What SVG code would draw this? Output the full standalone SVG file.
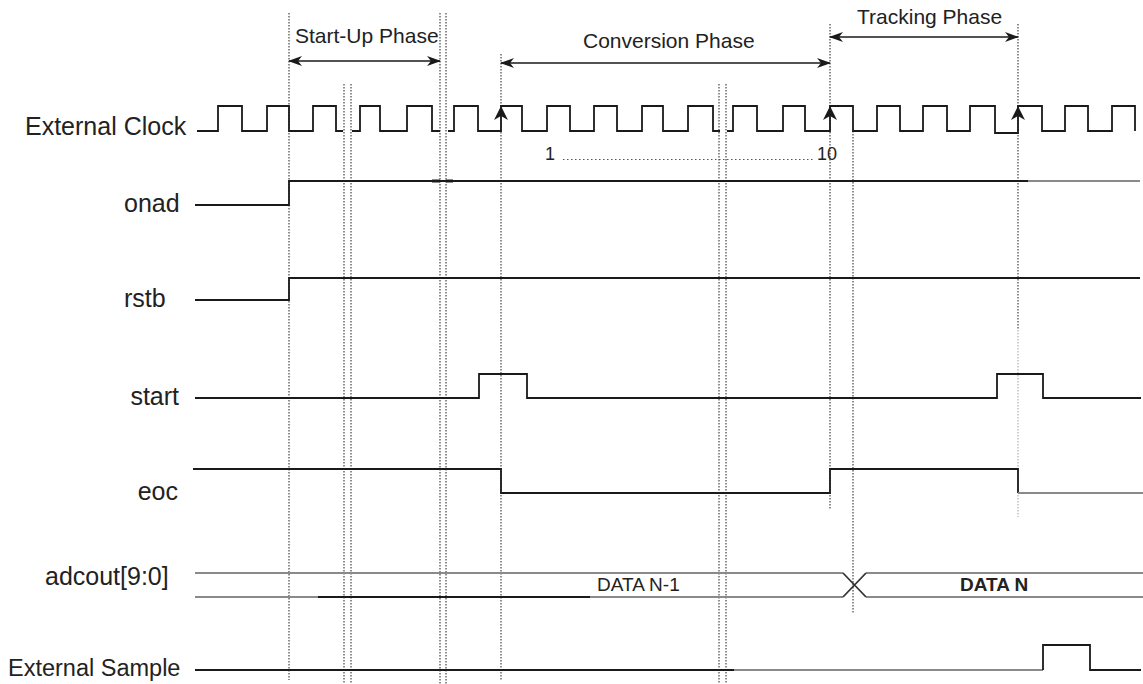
<svg xmlns="http://www.w3.org/2000/svg" width="1143" height="684" viewBox="0 0 1143 684">
<style>
  .lbl{font-family:"Liberation Sans",Arial,sans-serif;fill:#222}
  .sig{fill:none;stroke:#1a1a1a;stroke-width:1.8}
  .gry{fill:none;stroke:#8a8a8a;stroke-width:1.8}
  .vd{fill:none;stroke:#333;stroke-width:1.1;stroke-dasharray:1.6 1.4}
  .vdl{fill:none;stroke:#aaa;stroke-width:1.1;stroke-dasharray:1.6 1.4}
  .ar{fill:none;stroke:#1a1a1a;stroke-width:1.6}
</style>
<defs>
  <marker id="ah" viewBox="0 0 14 10" refX="13" refY="5" markerWidth="14" markerHeight="10" markerUnits="userSpaceOnUse" orient="auto-start-reverse">
    <path d="M0,0 L14,5 L0,10 L4,5 z" fill="#1a1a1a"/>
  </marker>
</defs>
<rect width="1143" height="684" fill="#fff"/>

<g id="connectors">
  <path class="vd" d="M289,13 V680"/>
  <path class="vd" d="M344,84 V684 M351,84 V684"/>
  <path class="vd" d="M440,13 V684 M446,13 V684"/>
  <path class="vd" d="M501,54 V680"/>
  <path class="vd" d="M719,84 V684 M726,84 V684"/>
  <path class="vd" d="M830,24 V510"/>
  <path class="vd" d="M853,131 V614"/>
  <path class="vd" d="M1018,24 V330"/>
  <path class="vdl" d="M1018,330 V517"/>
  <path class="ar" d="M289,61 H440" marker-start="url(#ah)" marker-end="url(#ah)"/>
  <path class="ar" d="M501,63 H830" marker-start="url(#ah)" marker-end="url(#ah)"/>
  <path class="ar" d="M830,37 H1018" marker-start="url(#ah)" marker-end="url(#ah)"/>
  <path d="M563,159.5 H815" fill="none" stroke="#555" stroke-width="1" stroke-dasharray="1.5 2.5"/>
</g>

<g id="phase-labels">
  <text class="lbl" x="295" y="43" font-size="21">Start-Up Phase</text>
  <text class="lbl" x="583" y="48" font-size="21">Conversion Phase</text>
  <text class="lbl" x="857" y="24" font-size="21">Tracking Phase</text>
</g>

<g id="clock">
  <text class="lbl" x="25" y="135" font-size="25">External Clock</text>
  <path class="sig" d="M197,131 H218 V106 H242 V131 H267 V106 H289 V131 H313 V106 H336 V131 H343"/>
  <path class="sig" d="M352,131 H360 V106 H380 V131 H407 V106 H432 V131 H440"/>
  <path class="sig" d="M448,131 H454 V106 H478 V131 H501 V106 H522 V131 H547 V106 H570 V131 H594 V106 H617 V131 H642 V106 H663 V131 H688 V106 H713 V131 H720"/>
  <path class="sig" d="M727,131 H733 V106 H757 V131 H783 V106 H805 V131 H830 V106 H853 V131 H877 V106 H900 V131 H923 V106 H947 V131 H970 V106 H995 V133 H1018 V106 H1042 V131 H1065 V106 H1088 V131 H1112 V106 H1135 V131"/>
  <path d="M501,106 L508,120 L501,116 L494,120 z" fill="#1a1a1a"/>
  <path d="M830,106 L837,120 L830,116 L823,120 z" fill="#1a1a1a"/>
  <path d="M1018,106 L1025,120 L1018,116 L1011,120 z" fill="#1a1a1a"/>
  <text class="lbl" x="545" y="160" font-size="18">1</text>
  <text class="lbl" x="817" y="160" font-size="18">10</text>
</g>

<g id="onad">
  <text class="lbl" x="124" y="212" font-size="25">onad</text>
  <path class="sig" d="M195,205 H289 V181 H1028"/>
  <path class="gry" d="M1028,181 H1140"/>
  <path d="M432,181 H440 M446,181 H453" fill="none" stroke="#1a1a1a" stroke-width="3"/>
</g>

<g id="rstb">
  <text class="lbl" x="124" y="307" font-size="25">rstb</text>
  <path class="sig" d="M195,300 H289 V278 H1140"/>
</g>

<g id="start">
  <text class="lbl" x="179" y="405" font-size="25" text-anchor="end">start</text>
  <path class="sig" d="M195,398 H479 V374 H527 V398 H997 V374 H1043 V398 H1141"/>
</g>

<g id="eoc">
  <text class="lbl" x="178" y="500" font-size="25" text-anchor="end">eoc</text>
  <path class="sig" d="M193,469 H501 V493 H830 V469 H1018 V493"/>
  <path class="gry" d="M1018,493 H1143"/>
</g>

<g id="adcout">
  <text class="lbl" x="45" y="585" font-size="25">adcout[9:0]</text>
  <path class="gry" d="M195,573 H843 M866,597 H1143"/>
  <path class="gry" d="M195,597 H843 M866,573 H1143"/>
  <path class="sig" d="M318,597 H590"/>
  <path d="M843,573 L866,597 M843,597 L866,573" fill="none" stroke="#333" stroke-width="1.8"/>
  <text class="lbl" x="597" y="591" font-size="19">DATA N-1</text>
  <text class="lbl" x="960" y="591" font-size="19" font-weight="bold">DATA N</text>
</g>

<g id="external-sample">
  <text class="lbl" x="8" y="676" font-size="23.5">External Sample</text>
  <path class="sig" d="M195,670 H734"/>
  <path class="gry" d="M734,670 H1043"/>
  <path class="sig" d="M1043,670 V645 H1090 V670 H1141"/>
</g>
</svg>
